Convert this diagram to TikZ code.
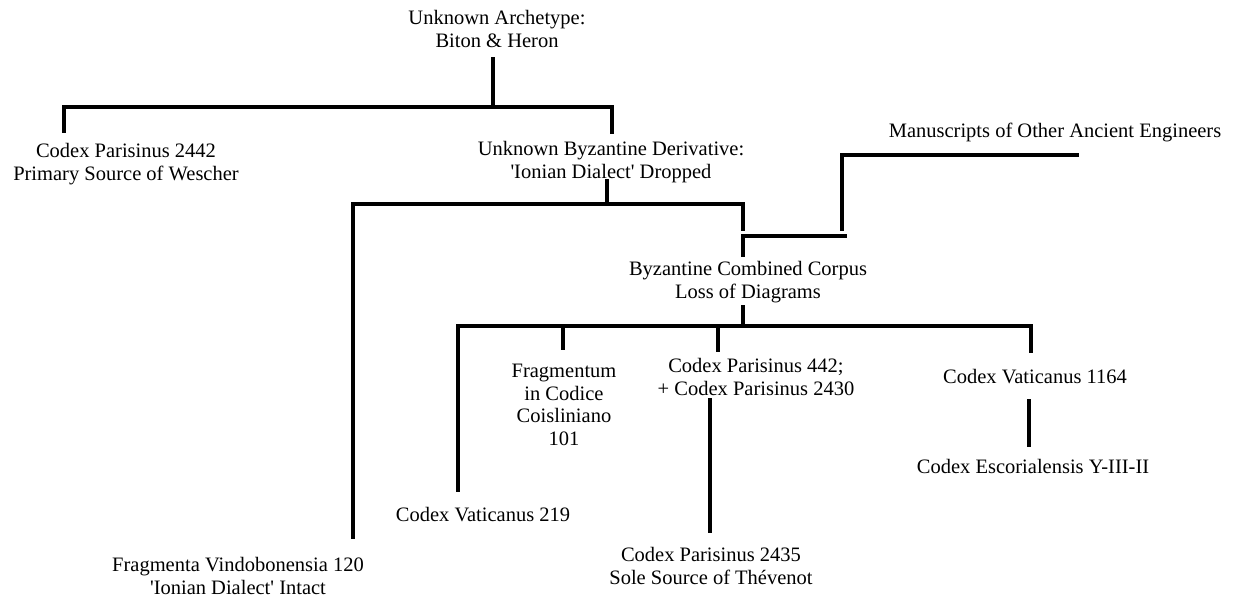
\documentclass[tikz,border=0pt]{standalone}
\usepackage{fontspec}
\setmainfont{Liberation Serif}
\newcommand{\sq}{\textquotesingle}
\begin{document}
\begin{tikzpicture}[x=1pt,y=-1pt,
  lbl/.style={align=center,inner sep=0pt,font=\fontsize{20.5}{22.5}\selectfont},
  conn/.style={line width=3.4pt,line cap=rect}]
\useasboundingbox (0,0) rectangle (1233,598);
% text nodes
\node[lbl] (arch) at (497,29) {Unknown Archetype:\\Biton \& Heron};
\node[lbl] (cp2442) at (126,164) {Codex Parisinus 2442\\Primary Source of Wescher};
\node[lbl] (byz) at (611,162) {Unknown Byzantine Derivative:\\\sq Ionian Dialect\sq{} Dropped};
\node[lbl] (manu) at (1055,132) {Manuscripts of Other Ancient Engineers};
\node[lbl] (corpus) at (748,282) {Byzantine Combined Corpus\\Loss of Diagrams};
\node[lbl] (frag) at (564,405) {Fragmentum\\in Codice\\Coisliniano\\101};
\node[lbl] (p442) at (756,377) {Codex Parisinus 442;\\+ Codex Parisinus 2430};
\node[lbl] (v1164) at (1035,377) {Codex Vaticanus 1164};
\node[lbl] (v219) at (483,515) {Codex Vaticanus 219};
\node[lbl] (esc) at (1033,466) {Codex Escorialensis Y-III-II};
\node[lbl] (p2435) at (711,566) {Codex Parisinus 2435\\Sole Source of Th\'evenot};
\node[lbl] (vind) at (238,576) {Fragmenta Vindobonensia 120\\\sq Ionian Dialect\sq{} Intact};
% junction coordinates
\coordinate (t0) at (493,59);
\coordinate (t1) at (493,107);
\coordinate (tL) at (64,107);
\coordinate (tLd) at (64,131);
\coordinate (tR) at (612,107);
\coordinate (tRd) at (612,132);
\coordinate (u0) at (607,181);
\coordinate (u1) at (607,204);
\coordinate (uL) at (353,204);
\coordinate (uLd) at (353,537);
\coordinate (uR) at (743,204);
\coordinate (uRd) at (743,229);
\coordinate (c0) at (743,255);
\coordinate (c1) at (743,236);
\coordinate (c2) at (845,236);
\coordinate (m0) at (842,229);
\coordinate (m1) at (842,155);
\coordinate (m2) at (1077,155);
\coordinate (k0) at (743,307);
\coordinate (k1) at (743,326);
\coordinate (kL) at (458,326);
\coordinate (kLd) at (458,490);
\coordinate (kR) at (1031,326);
\coordinate (kRd) at (1031,351);
\coordinate (kF) at (563,326);
\coordinate (kFd) at (563,348);
\coordinate (kP) at (718,326);
\coordinate (kPd) at (718,350);
\coordinate (p0) at (710,400);
\coordinate (p1) at (710,531);
\coordinate (v0) at (1029,401);
\coordinate (v1) at (1029,445);
% connectors
\draw[conn] (t0) -- (t1);
\draw[conn] (tLd) -- (tL) -- (tR) -- (tRd);
\draw[conn] (u0) -- (u1);
\draw[conn] (uLd) -- (uL) -- (uR) -- (uRd);
\draw[conn] (c0) -- (c1) -- (c2);
\draw[conn] (m0) -- (m1) -- (m2);
\draw[conn] (k0) -- (k1);
\draw[conn] (kLd) -- (kL) -- (kR) -- (kRd);
\draw[conn] (kF) -- (kFd);
\draw[conn] (kP) -- (kPd);
\draw[conn] (p0) -- (p1);
\draw[conn] (v0) -- (v1);
\end{tikzpicture}
\end{document}
